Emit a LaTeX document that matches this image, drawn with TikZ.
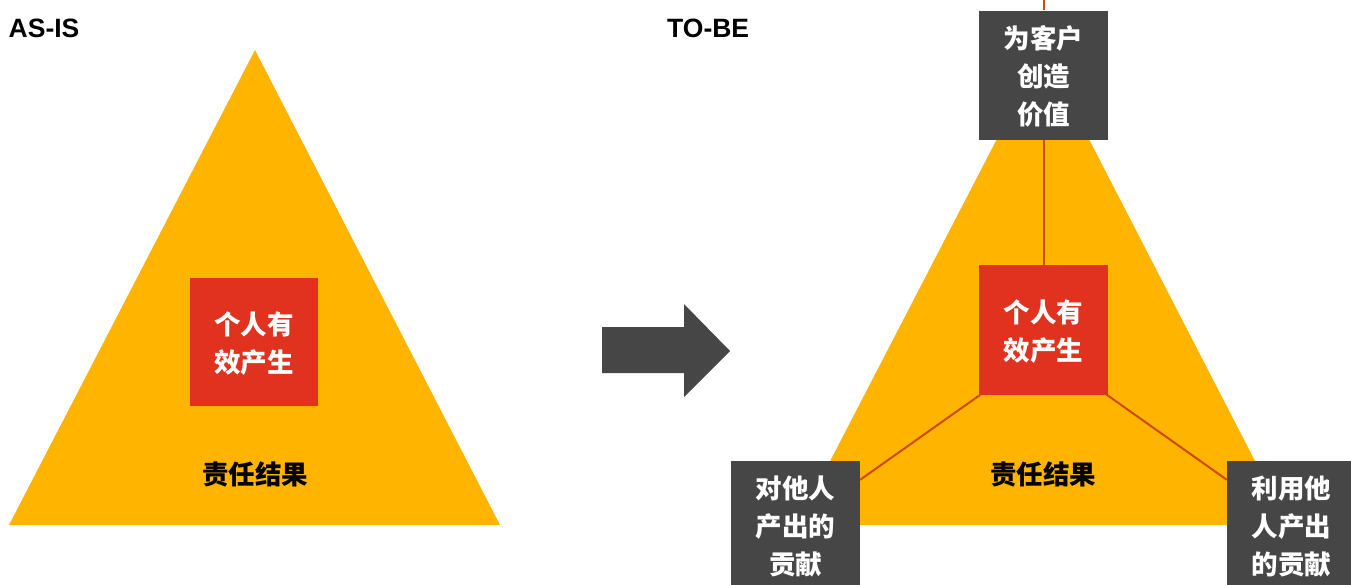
\documentclass[tikz,border=0pt]{standalone}
\usepackage{fontspec}
\setmainfont{Liberation Sans}
\newfontfamily\cjk{Noto Sans CJK SC}
\definecolor{triyellow}{HTML}{FFB400}
\definecolor{boxred}{HTML}{E0321F}
\definecolor{boxgray}{HTML}{464646}
\definecolor{linkorange}{HTML}{CC4A0A}
\tikzset{
  cjktext/.style={font=\cjk\bfseries\fontsize{26.5}{38}\selectfont, align=center},
  boxbase/.style={cjktext, text=white, inner sep=0pt, minimum width=129pt, minimum height=129pt, text depth=-8pt},
  redbox/.style={boxbase, fill=boxred},
  graybox/.style={boxbase, fill=boxgray},
  tritext/.style={cjktext, text=black, inner sep=0pt},
  titletext/.style={font=\bfseries\fontsize{26.5}{30}\selectfont, anchor=west, inner sep=0pt},
  link/.style={draw=linkorange, line width=2pt}
}
\begin{document}
\begin{tikzpicture}[x=1pt,y=-1pt]
\useasboundingbox (0,0) rectangle (1351,584);
\clip (0,0) rectangle (1351,584);
% left (AS-IS)
\node[titletext] (asis) at (8.5,28) {AS-IS};
\fill[triyellow] (255,50) -- (9,525) -- (500,525) -- cycle;
\node[redbox, minimum width=128pt, minimum height=128pt] (lred) at (254,342) {个人有\\效产生};
\node[tritext] (lres) at (255,474) {责任结果};
% arrow
\fill[boxgray] (602,327) -- (684,327) -- (684,304) -- (730,351) -- (684,397) -- (684,373) -- (602,373) -- cycle;
% right (TO-BE)
\node[titletext] (tobe) at (667,28) {TO-BE};
\fill[triyellow] (1043,50) -- (797,525) -- (1288,525) -- cycle;
\coordinate (ctr) at (1043.5,350);
\coordinate (topend) at (1043.5,0);
\node[tritext] (rres) at (1043,474) {责任结果};
\node[graybox] (top) at (1043.5,75) {为客户\\创造\\价值};
\node[graybox] (bl) at (795.5,525.5) {对他人\\产出的\\贡献};
\node[graybox] (br) at (1291.5,525.5) {利用他\\人产出\\的贡献};
\draw[link] (topend) -- (top.north);
\draw[link] (top.south) -- (ctr);
\draw[link] (ctr) -- (bl);
\draw[link] (ctr) -- (br);
\node[redbox, minimum height=130pt] (rred) at (1043.5,330) {个人有\\效产生};
\end{tikzpicture}
\end{document}
